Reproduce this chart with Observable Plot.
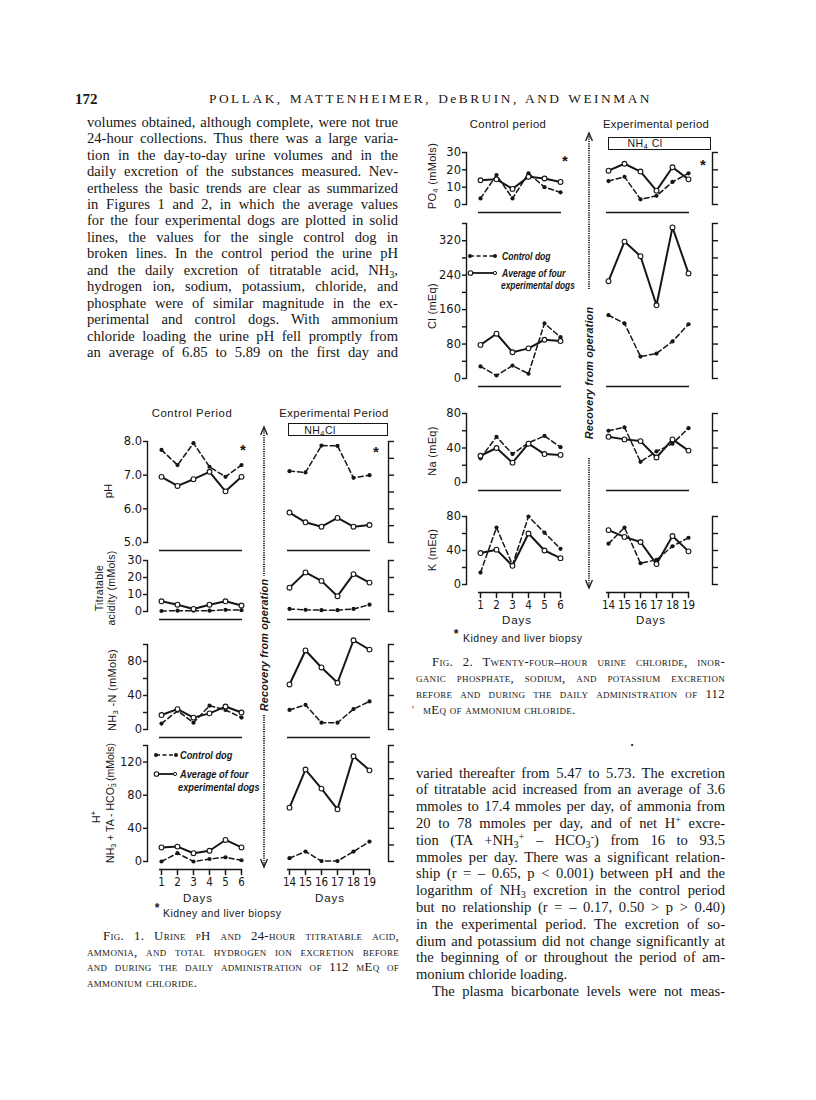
<!DOCTYPE html>
<html>
<head>
<meta charset="utf-8">
<script src="https://cdn.jsdelivr.net/npm/d3@7"></script>
<script src="https://cdn.jsdelivr.net/npm/@observablehq/plot@0.6"></script>
<style>
html,body{margin:0;padding:0;background:#fff;}
#page{position:relative;width:816px;height:1100px;overflow:hidden;background:#fff;color:#161616;}
.t{position:absolute;white-space:nowrap;}
.serif{font-family:"Liberation Serif","Times New Roman",serif;}
.sans{font-family:"Liberation Sans",Arial,sans-serif;}
.jl{position:absolute;text-align:justify;text-align-last:justify;font-family:"Liberation Serif",serif;font-size:14.6px;white-space:normal;}
.jl.last{text-align-last:left;}
.cap{font-variant:small-caps;font-size:12.8px;letter-spacing:0.3px;}
.hdr{font-size:13.4px;letter-spacing:2.5px;}
sub{font-size:70%;vertical-align:-0.25em;line-height:0;}
sup{font-size:70%;vertical-align:0.5em;line-height:0;}
.bi{font-family:"Liberation Sans",Arial,sans-serif;font-weight:bold;font-style:italic;}
</style>
</head>
<body>
<div id="page"></div>
<script>
// ---------------- data ----------------
const days = [1, 2, 3, 4, 5, 6, 14, 15, 16, 17, 18, 19];
const xDomain = [1, 2, 3, 4, 5, 6, "gap1", "gap2", 14, 15, 16, 17, 18, 19];

// Figure 1 — control dog (broken line) and average of four experimental dogs (solid line)
const phControlDog   = [7.75, 7.30, 7.95, 7.25, 6.95, 7.30,  7.12, 7.08, 7.88, 7.87, 6.92, 7.00];
const phAverageDogs  = [6.95, 6.68, 6.88, 7.10, 6.52, 6.95,  5.89, 5.60, 5.47, 5.73, 5.47, 5.52];
const taControlDog   = [0.3, 0.5, 0.5, 0.5, 1.0, 0.8,  1.5, 1.0, 0.8, 0.8, 1.5, 4.0];
const taAverageDogs  = [6.0, 4.0, 1.5, 4.0, 6.0, 3.5,  14, 23, 18, 9, 22, 17];
const nh3ControlDog  = [7, 22, 8, 28, 23, 14,  23, 29, 8, 8, 24, 33];
const nh3AverageDogs = [17, 24, 14, 19, 27, 20,  53, 93, 73, 55, 105, 94];
const hControlDog    = [0, 10, 0, 3, 5, 1.5,  4, 12, 0.5, 0.5, 12, 24];
const hAverageDogs   = [17, 18, 10, 13, 26, 17,  65, 111, 88, 63, 127, 110];

// Figure 2
const po4ControlDog  = [3.5, 17, 3.5, 18, 10, 7,  13.5, 16, 3, 5, 13, 18];
const po4AverageDogs = [14, 14.5, 9, 16, 15, 13,  19.5, 23.5, 19, 8, 21.5, 14.5];
const clControlDog   = [28, 7, 30, 11, 128, 96,  147, 128, 51, 58, 86, 126];
const clAverageDogs  = [78, 104, 61, 70, 90, 87,  226, 318, 284, 170, 351, 244];
const naControlDog   = [28, 53, 33, 46, 54, 41,  60, 64, 24, 36, 45, 63];
const naAverageDogs  = [31, 40, 23, 45, 33, 32,  53, 50, 48, 29, 50, 37];
const kControlDog    = [14, 67, 23, 80, 61, 42,  48, 67, 25, 29, 45, 55];
const kAverageDogs   = [37, 41, 22, 60, 40, 31,  64, 56, 50, 24, 57, 39];

// tick values
const phTicks = [5, 6, 7, 8];
const phRightTicks = [5, 5.5, 6, 6.5, 7, 7.5, 8];
const taTicks = [0, 10, 20, 30];
const nh3Ticks = [0, 20, 40, 60, 80, 100];
const nh3Labels = [0, 40, 80];
const hTicks = [0, 40, 80, 120, 140];
const hLabels = [0, 40, 80, 120];
const hRightTicks = [0, 20, 40, 60, 80, 100, 120, 140];
const po4Ticks = [0, 10, 20, 30];
const clTicks = [0, 40, 80, 120, 160, 200, 240, 280, 320, 360];
const clLabels = [0, 80, 160, 240, 320];
const naTicks = [0, 20, 40, 60, 80];
const naLabels = [0, 40, 80];

// text
const headerLeft = "172";
const headerRight = "POLLAK, MATTENHEIMER, DeBRUIN, AND WEINMAN";
const leftColumn = [
  "volumes obtained, although complete, were not true",
  "24-hour collections.  Thus there was a large varia-",
  "tion in the day-to-day urine volumes and in the",
  "daily excretion of the substances measured.  Nev-",
  "ertheless the basic trends are clear as summarized",
  "in Figures 1 and 2, in which the average values",
  "for the four experimental dogs are plotted in solid",
  "lines, the values for the single control dog in",
  "broken lines.  In the control period the urine pH",
  "and the daily excretion of titratable acid, NH<sub>3</sub>,",
  "hydrogen ion, sodium, potassium, chloride, and",
  "phosphate were of similar magnitude in the ex-",
  "perimental and control dogs.  With ammonium",
  "chloride loading the urine pH fell promptly from",
  "an average of 6.85 to 5.89 on the first day and"
];
const rightColumn = [
  "varied thereafter from 5.47 to 5.73.  The excretion",
  "of titratable acid increased from an average of 3.6",
  "mmoles to 17.4 mmoles per day, of ammonia from",
  "20 to 78 mmoles per day, and of net H<sup>+</sup> excre-",
  "tion (TA +NH<sub>3</sub><sup>+</sup> – HCO<sub>3</sub><sup>-</sup>) from 16 to 93.5",
  "mmoles per day.  There was a significant relation-",
  "ship (r = – 0.65, p &lt; 0.001) between pH and the",
  "logarithm of NH<sub>3</sub> excretion in the control period",
  "but no relationship (r = – 0.17, 0.50 &gt; p &gt; 0.40)",
  "in the experimental period.  The excretion of so-",
  "dium and potassium did not change significantly at",
  "the beginning of or throughout the period of am-",
  "monium chloride loading.",
  "The plasma bicarbonate levels were not meas-"
];
const fig1Caption = [
  "Fig. 1.  Urine pH and 24-hour titratable acid,",
  "ammonia, and total hydrogen ion excretion before",
  "and during the daily administration of 112 mEq of",
  "ammonium chloride."
];
const fig2Caption = [
  "Fig. 2.  Twenty-four–hour urine chloride, inor-",
  "ganic phosphate, sodium, and potassium excretion",
  "before and during the daily administration of 112",
  "mEq of ammonium chloride."
];

// ---------------- helpers ----------------
const page = document.getElementById("page");
function put(html, x, y, o = {}) {
  const d = document.createElement("div");
  d.className = "t " + (o.cls || "sans");
  d.innerHTML = html;
  d.style.left = x + "px";
  d.style.top = y + "px";
  d.style.fontSize = (o.size || 11) + "px";
  if (o.lh) d.style.lineHeight = o.lh + "px";
  if (o.ls) d.style.letterSpacing = o.ls + "px";
  if (o.align) d.style.textAlign = o.align;
  if (o.weight) d.style.fontWeight = o.weight;
  const tx = o.anchor === "start" ? "0" : o.anchor === "end" ? "-100%" : "-50%";
  if (o.anchor === "start") d.style.transformOrigin = "0 50%";
  d.style.transform = `translate(${tx},-50%)` + (o.rotate ? ` rotate(${o.rotate}deg)` : "") + (o.sx ? ` scaleX(${o.sx})` : "");
  page.appendChild(d);
  return d;
}
function lines(arr, x, width, y0, step, o = {}) {
  arr.forEach((t, i) => {
    const d = document.createElement("div");
    const last = (o.lastIdx || []).includes(i);
    d.className = "jl " + (o.cls || "") + (last ? " last" : "");
    const ind = (o.indent && o.indent[i]) || 0;
    d.style.left = (x + ind) + "px";
    d.style.width = (width - ind) + "px";
    d.style.top = (y0 + i * step - step / 2) + "px";
    d.style.height = step + "px";
    d.style.lineHeight = step + "px";
    d.innerHTML = t;
    page.appendChild(d);
  });
}

const tickDown = {draw(ctx, l) { ctx.moveTo(0, 0); ctx.lineTo(0, l); }};
const narrow = "'DejaVu Sans Condensed','Liberation Sans Narrow','Liberation Sans',sans-serif";

function panel(fig, s) {
  const mt = 10, mb = s.xAxis ? 42 : 14;
  const rows = days.map((d, i) => ({day: d, period: i < 6 ? "control" : "experimental", control: s.control[i], average: s.average[i]}));
  const segments = [{from: days[0], to: days[5]}, {from: days[6], to: days[11]}];
  const ymin = s.domain[0];
  const marks = [
    Plot.frame({anchor: "left", strokeWidth: 1.4}),
    Plot.frame({anchor: "right", strokeWidth: 1.4}),
    Plot.axisY({anchor: "left", ticks: s.ticks, tickFormat: v => (s.labels || s.ticks).includes(v) ? (s.format ? s.format(v) : String(v)) : "", tickSize: 4, tickPadding: 1.5, fontSize: 11.5, strokeWidth: 1.4, label: null}),
    Plot.axisY({anchor: "right", ticks: s.rightTicks || s.ticks, tickFormat: () => "", tickSize: 5, strokeWidth: 1.4, label: null}),
    Plot.ruleY(segments, {x1: "from", x2: "to", y: () => ymin, dy: 8, strokeWidth: 1.7, insetLeft: -2, insetRight: -1}),
    Plot.line(rows, {x: "day", y: "control", z: "period", strokeWidth: 1.5, strokeDasharray: "5,3"}),
    Plot.line(rows, {x: "day", y: "average", z: "period", strokeWidth: 2}),
    Plot.dot(rows, {x: "day", y: "control", r: 2.1, fill: "currentColor"}),
    Plot.dot(rows, {x: "day", y: "average", r: 2.4, fill: "white", stroke: "currentColor", strokeWidth: 1.1})
  ];
  if (s.xAxis) {
    marks.push(Plot.vector(days, {x: d => d, y: () => ymin, dy: 8, length: 5, anchor: "start", shape: tickDown, strokeWidth: 1.5}));
    marks.push(Plot.text(days, {x: d => d, y: () => ymin, dy: 16, text: d => String(d), lineAnchor: "top", fontSize: 11.5, fontFamily: narrow}));
  }
  const svg = Plot.plot({
    width: fig.width,
    height: mt + (s.y0px - s.y1px) + mb,
    marginLeft: fig.frameL - fig.left,
    marginRight: fig.left + fig.width - fig.frameR,
    marginTop: mt,
    marginBottom: mb,
    x: {type: "point", domain: xDomain, padding: 0, insetLeft: fig.firstDay - fig.frameL, insetRight: fig.frameR - fig.lastDay, axis: null},
    y: {domain: s.domain, axis: null},
    style: "background:transparent;overflow:visible;font-family:'DejaVu Sans',sans-serif;font-size:11px;color:#161616;",
    marks
  });
  svg.style.position = "absolute";
  svg.style.left = fig.left + "px";
  svg.style.top = (s.y1px - mt) + "px";
  page.appendChild(svg);
}

function arrow(x, yTop, y1, yc, y2, yBot) {
  const h = yBot - yTop;
  const w = document.createElement("div");
  w.innerHTML = `<svg class="t" style="left:${x - 6}px;top:${yTop}px;overflow:visible" width="12" height="${h}">
    <path d="M2.6,8 L6,0 L9.4,8" fill="none" stroke="#161616" stroke-width="1.3"/>
    <line x1="6" x2="6" y1="1" y2="${y1 - yTop}" stroke="#161616" stroke-width="1.7" stroke-dasharray="1.2 1.1"/>
    <line x1="6" x2="6" y1="${y2 - yTop}" y2="${h - 1}" stroke="#161616" stroke-width="1.7" stroke-dasharray="1.2 1.1"/>
    <path d="M2.6,${h - 8} L6,${h} L9.4,${h - 8}" fill="none" stroke="#161616" stroke-width="1.3"/>
  </svg>`;
  page.appendChild(w.firstElementChild);
  put("Recovery from operation", x, yc, {cls: "bi", size: 10.8, rotate: -90, ls: 0.2});
}

function legendSample(x, y, kind, w) {
  const d = document.createElement("div");
  const dash = kind === "control";
  d.innerHTML = `<svg class="t" style="left:${x}px;top:${y - 4}px;overflow:visible" width="${w}" height="8">
    <line x1="2" x2="${w - 2}" y1="4" y2="4" stroke="#161616" stroke-width="${dash ? 1.5 : 1.8}" ${dash ? 'stroke-dasharray="4,2.5"' : ""}/>
    ${dash ? `<circle cx="2" cy="4" r="2" fill="#161616"/><circle cx="${w - 2}" cy="4" r="2" fill="#161616"/>`
           : `<circle cx="2.5" cy="4" r="2.3" fill="#fff" stroke="#161616" stroke-width="1.1"/><circle cx="${w - 2}" cy="4" r="1.6" fill="#fff" stroke="#161616" stroke-width="1"/>`}
  </svg>`;
  page.appendChild(d.firstElementChild);
}

function box(x1, y1, x2, y2) {
  const d = document.createElement("div");
  d.style.cssText = `position:absolute;left:${x1}px;top:${y1}px;width:${x2 - x1}px;height:${y2 - y1}px;border:1.3px solid #161616;box-sizing:border-box;`;
  page.appendChild(d);
}

// ---------------- page header & text ----------------
put(headerLeft, 75, 99, {cls: "serif", size: 15, anchor: "start", weight: "bold"});
lines([headerRight], 209, 443, 99, 18, {cls: "hdr"});
lines(leftColumn, 87, 311, 122, 16.45, {lastIdx: []});
lines(rightColumn, 416, 309, 773, 16.8, {lastIdx: [12], indent: {13: 16}});
lines(fig1Caption, 87, 312, 937, 15.5, {cls: "cap", lastIdx: [3], indent: {0: 16}});
lines(fig2Caption, 416, 309, 663, 15.8, {cls: "cap", lastIdx: [3], indent: {0: 16, 3: 7}});
put("•", 632, 745, {cls: "serif", size: 9});
put("'", 413, 709, {cls: "serif", size: 10});

// ---------------- Figure 1 ----------------
const fig1 = {left: 55, width: 350, frameL: 147, frameR: 388, firstDay: 157, lastDay: 372};
put("Control Period", 192, 413, {size: 11.3, ls: 0.6});
put("Experimental Period", 334, 413, {size: 11.3, ls: 0.4});
box(288, 423, 388, 436);
put("NH<sub>4</sub>Cl", 320, 429.5, {size: 10.5, ls: 0.5});
arrow(264, 427, 576, 645, 715, 867);

panel(fig1, {control: phControlDog, average: phAverageDogs, domain: [5, 8], y1px: 441, y0px: 542, ticks: phTicks, rightTicks: phRightTicks, format: d3.format(".1f")});
panel(fig1, {control: taControlDog, average: taAverageDogs, domain: [0, 30], y1px: 560, y0px: 611, ticks: taTicks});
panel(fig1, {control: nh3ControlDog, average: nh3AverageDogs, domain: [0, 100], y1px: 644, y0px: 729, ticks: nh3Ticks, labels: nh3Labels});
panel(fig1, {control: hControlDog, average: hAverageDogs, domain: [0, 140], y1px: 745, y0px: 861, ticks: hTicks, labels: hLabels, rightTicks: hRightTicks, xAxis: true});

put("pH", 108, 491, {size: 11.5, rotate: -90});
put("Titratable<br>acidity (mMols)", 105, 588, {size: 10.5, lh: 12, rotate: -90, align: "center", ls: 0.3});
put("NH<sub>3</sub> -N (mMols)", 112, 690, {size: 11, rotate: -90, ls: 0.3});
put("H<sup>+</sup>", 96, 817, {size: 10.5, rotate: -90});
put("NH<sub>3</sub> + TA - HCO<sub>3</sub><sup style='margin-left:-0.45em'>-</sup> (mMols)", 110, 803, {size: 10.5, rotate: -90});
put("*", 243, 449, {size: 15, weight: "bold"});
put("*", 376, 451, {size: 15, weight: "bold"});

legendSample(154, 755, "control", 24);
put("Control dog", 180, 755, {cls: "bi", size: 11, anchor: "start", sx: 0.84});
legendSample(154, 774, "average", 23);
put("Average of four", 180, 774, {cls: "bi", size: 11, anchor: "start", sx: 0.84});
put("experimental dogs", 178, 787, {cls: "bi", size: 11, anchor: "start", sx: 0.84});

put("Days", 198, 898, {size: 11.5, ls: 1});
put("Days", 330, 898, {size: 11.5, ls: 1});
put("*", 157, 908, {size: 12, weight: "bold"});
put("Kidney and liver biopsy", 163, 913, {size: 10.5, anchor: "start", ls: 0.45});

// ---------------- Figure 2 ----------------
const fig2 = {left: 385, width: 350, frameL: 466, frameR: 712, firstDay: 475, lastDay: 693};
put("Control period", 508, 124, {size: 11.3, ls: 0.4});
put("Experimental period", 656, 124, {size: 11.3, ls: 0.3});
box(608, 137, 711, 150);
put("NH<sub>4</sub> Cl", 645, 143, {size: 10.5, ls: 0.5});
arrow(589, 133, 289, 373, 458, 588);

panel(fig2, {control: po4ControlDog, average: po4AverageDogs, domain: [0, 30], y1px: 152, y0px: 204, ticks: po4Ticks});
panel(fig2, {control: clControlDog, average: clAverageDogs, domain: [0, 360], y1px: 223, y0px: 378, ticks: clTicks, labels: clLabels});
panel(fig2, {control: naControlDog, average: naAverageDogs, domain: [0, 80], y1px: 413, y0px: 482, ticks: naTicks, labels: naLabels});
panel(fig2, {control: kControlDog, average: kAverageDogs, domain: [0, 80], y1px: 516, y0px: 584, ticks: naTicks, labels: naLabels, xAxis: true});

put("PO<sub>4</sub> (mMols)", 432, 176, {size: 11, rotate: -90, ls: 0.3});
put("Cl (mEq)", 432, 306, {size: 11, rotate: -90, ls: 0.3});
put("Na (mEq)", 432, 451, {size: 11, rotate: -90, ls: 0.3});
put("K (mEq)", 432, 550, {size: 11, rotate: -90, ls: 0.3});
put("*", 565, 160, {size: 15, weight: "bold"});
put("*", 703, 164, {size: 15, weight: "bold"});

legendSample(468, 256, "control", 29);
put("Control dog", 502, 256, {cls: "bi", size: 11, anchor: "start", sx: 0.78});
legendSample(468, 273, "average", 29);
put("Average of four", 502, 273, {cls: "bi", size: 11, anchor: "start", sx: 0.78});
put("experimental dogs", 501, 285, {cls: "bi", size: 11, anchor: "start", sx: 0.76});

put("Days", 517, 620, {size: 11.5, ls: 1});
put("Days", 651, 620, {size: 11.5, ls: 1});
put("*", 456, 634, {size: 12, weight: "bold"});
put("Kidney and liver biopsy", 463, 638, {size: 10.5, anchor: "start", ls: 0.5});
</script>
</body>
</html>
